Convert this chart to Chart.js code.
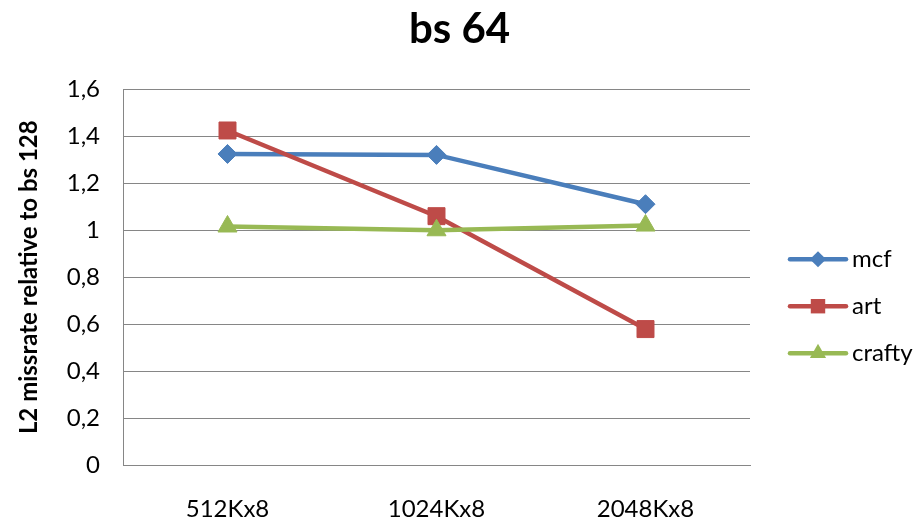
<!DOCTYPE html>
<html>
<head>
<meta charset="utf-8">
<script src="https://cdn.jsdelivr.net/npm/chart.js@4/dist/chart.umd.min.js"></script>
<style>
  body { margin: 0; background: #fff; }
  canvas { display: block; }
</style>
</head>
<body>
<canvas id="chart" width="919" height="525"></canvas>
<script>
'use strict';
// cache configurations on the x axis
var categories = ['512Kx8', '1024Kx8', '2048Kx8'];
var seriesNames = ['mcf', 'art', 'crafty'];
var mcf = [1.325, 1.321, 1.111];
var art = [1.425, 1.06, 0.579];
var crafty = [1.016, 1.0, 1.02];
var yTicks = [0, 0.2, 0.4, 0.6, 0.8, 1, 1.2, 1.4, 1.6];
var chartTitle = 'bs 64';

var colors = ['#4A7EBB', '#BE4B48', '#98B954'];
var styles = ['rectRot', 'rect', 'triangle'];
var radii = [9.5, 12, 11];
var FONT = 'Lato';

function drawMarker(ctx, style, r, x, y) {
  ctx.beginPath();
  if (style === 'rectRot') {
    ctx.moveTo(x, y - r); ctx.lineTo(x + r, y); ctx.lineTo(x, y + r); ctx.lineTo(x - r, y);
  } else if (style === 'rect') {
    var s = r / Math.SQRT2;
    ctx.rect(x - s, y - s, 2 * s, 2 * s);
  } else {
    ctx.moveTo(x, y - r);
    ctx.lineTo(x + r * Math.sin(Math.PI / 3), y + r / 2);
    ctx.lineTo(x - r * Math.sin(Math.PI / 3), y + r / 2);
  }
  ctx.closePath();
  ctx.fill();
}

// Excel style legend: line with marker, then the name.
// the title is drawn here too so it is centred on the whole canvas
var sideLegend = {
  id: 'sideLegend',
  afterDraw: function (chart) {
    var ctx = chart.ctx;
    var area = chart.chartArea;
    var x0 = area.right + 40;
    var yMid = (area.top + area.bottom) / 2 + 29;
    ctx.save();
    ctx.fillStyle = '#000';
    ctx.font = 'bold 42px ' + FONT;
    ctx.textAlign = 'center';
    ctx.textBaseline = 'middle';
    ctx.fillText(chartTitle, chart.width / 2, 29);

    chart.data.datasets.forEach(function (ds, i) {
      var y = yMid + (i - 1) * 47;
      ctx.strokeStyle = ds.borderColor;
      ctx.fillStyle = ds.borderColor;
      ctx.lineWidth = 4.5;
      ctx.lineCap = 'round';
      ctx.beginPath();
      ctx.moveTo(x0, y);
      ctx.lineTo(x0 + 56, y);
      ctx.stroke();
      drawMarker(ctx, styles[i], radii[i] * 0.85, x0 + 28, y);
      ctx.fillStyle = '#000';
      ctx.font = '24px ' + FONT;
      ctx.textBaseline = 'middle';
      ctx.textAlign = 'left';
      ctx.fillText(ds.label, x0 + 62, y);
    });
    ctx.restore();
  }
};

var seriesValues = [mcf, art, crafty];
var datasets = seriesNames.map(function (name, i) {
  return {
    label: name,
    data: seriesValues[i],
    borderColor: colors[i],
    backgroundColor: colors[i],
    borderWidth: 4.5,
    pointStyle: styles[i],
    pointRadius: radii[i],
    pointHoverRadius: radii[i],
    pointBorderWidth: 1,
    tension: 0,
    order: 3 - i
  };
});

var ctx = document.getElementById('chart').getContext('2d');
var chart = new Chart(ctx, {
  type: 'line',
  data: { labels: categories, datasets: datasets },
  plugins: [sideLegend],
  options: {
    responsive: false,
    animation: false,
    events: [],
    layout: { padding: { left: 13, right: 169, top: 0, bottom: 0 } },
    plugins: {
      legend: { display: false },
      tooltip: { enabled: false },
      title: {
        // keeps the room; the text itself is painted by sideLegend
        display: true,
        text: chartTitle,
        color: 'rgba(0,0,0,0)',
        font: { family: FONT, size: 42, weight: 'bold' },
        padding: { top: 4, bottom: 35 }
      }
    },
    scales: {
      x: {
        offset: true,
        grid: { display: false, drawTicks: false },
        border: { color: '#868686', width: 1 },
        ticks: { color: '#000', padding: 30, font: { family: FONT, size: 24 } },
        afterFit: function (scale) { scale.height = 60; }
      },
      y: {
        min: 0,
        max: 1.6,
        afterBuildTicks: function (scale) {
          scale.ticks = yTicks.map(function (v) { return { value: v }; });
        },
        grid: { color: '#868686', lineWidth: 1, drawTicks: false },
        border: { color: '#868686', width: 1 },
        ticks: {
          color: '#000',
          padding: 23,
          font: { family: FONT, size: 24 },
          callback: function (v) { return String(Math.round(v * 10) / 10).replace('.', ','); }
        },
        title: {
          display: true,
          text: 'L2 missrate relative to bs 128',
          color: '#000',
          font: { family: FONT, size: 24, weight: 'bold' },
          padding: { top: 2, bottom: 4 }
        },
        afterFit: function (scale) { scale.width = 110; }
      }
    }
  }
});
</script>
</body>
</html>
